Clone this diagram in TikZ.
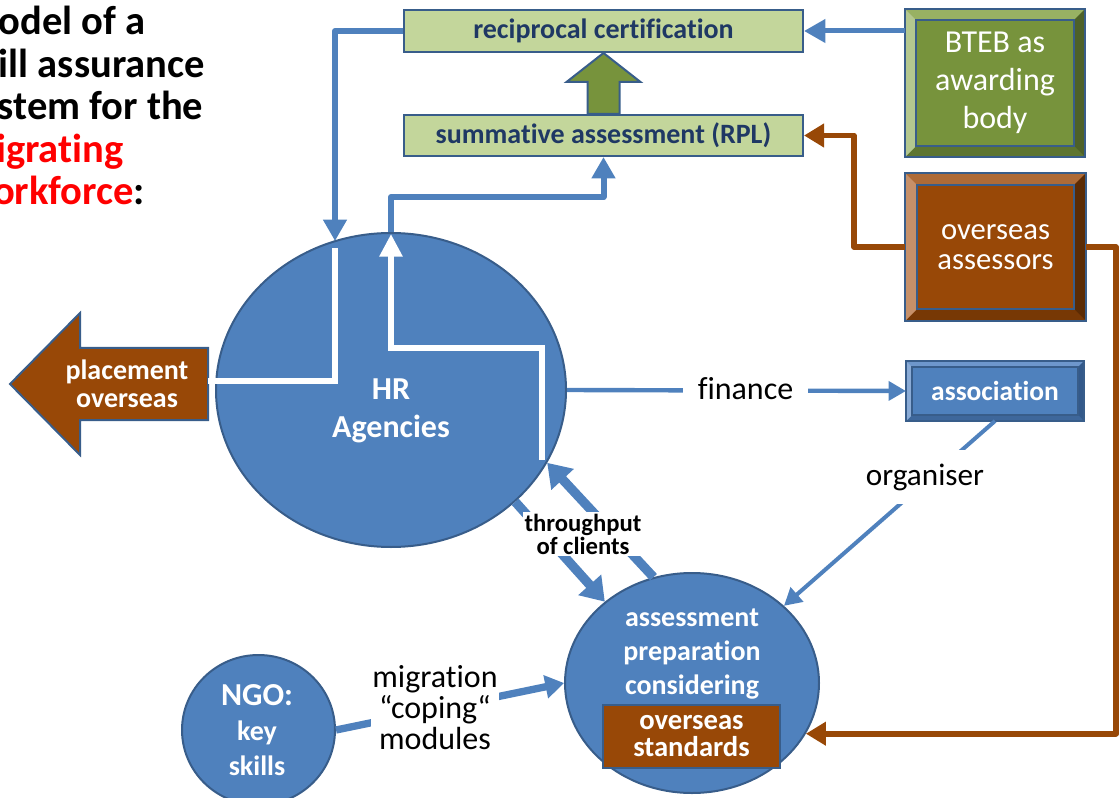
\documentclass[tikz,border=0pt]{standalone}
\usepackage{fontspec}
\setmainfont[Ligatures=NoCommon, RawFeature={-liga,-calt}]{Carlito}
\usetikzlibrary{arrows.meta,calc,shapes.geometric}

\definecolor{ppblue}{HTML}{4F81BD}
\definecolor{pprim}{HTML}{385D8A}
\definecolor{ppbrown}{HTML}{984807}
\definecolor{pplime}{HTML}{C3D69B}
\definecolor{ppolive}{HTML}{77933C}
\definecolor{ppnavy}{HTML}{1F3864}
% bevel faces: T top, B bottom, L left, R right
\definecolor{btebT}{HTML}{98B163}
\definecolor{btebL}{HTML}{B3C78F}
\definecolor{btebR}{HTML}{4E6128}
\definecolor{btebB}{HTML}{5E7530}
\definecolor{assrT}{HTML}{AE6B37}
\definecolor{assrL}{HTML}{C69069}
\definecolor{assrR}{HTML}{5B2B04}
\definecolor{assrB}{HTML}{773805}
\definecolor{assoT}{HTML}{6E97CC}
\definecolor{assoL}{HTML}{8AABD6}
\definecolor{assoR}{HTML}{33598A}
\definecolor{assoB}{HTML}{3E679B}

\newcommand\pxu{0.75pt}
\newcommand\fsz[2]{\fontsize{#1}{#2}\selectfont}

% bevelled frame over a rectangular node: #1 node, #2 inset, #3 colour prefix
\newcommand\bevelfaces[3]{%
  \fill[#3T] (#1.north west) -- (#1.north east) -- ($(#1.north east)+(-#2,#2)$) -- ($(#1.north west)+(#2,#2)$) -- cycle;
  \fill[#3B] (#1.south west) -- (#1.south east) -- ($(#1.south east)+(-#2,-#2)$) -- ($(#1.south west)+(#2,-#2)$) -- cycle;
  \fill[#3L] (#1.north west) -- (#1.south west) -- ($(#1.south west)+(#2,-#2)$) -- ($(#1.north west)+(#2,#2)$) -- cycle;
  \fill[#3R] (#1.north east) -- (#1.south east) -- ($(#1.south east)+(-#2,-#2)$) -- ($(#1.north east)+(-#2,#2)$) -- cycle;
  \draw[rim] ($(#1.north west)+(#2,#2)$) rectangle ($(#1.south east)+(-#2,-#2)$);
  \draw[rim] (#1.north west) rectangle (#1.south east);
}

\tikzset{
  rim/.style={draw=pprim, line width=1.5pt},
  limebox/.style={rectangle, fill=pplime, rim, text=ppnavy, inner sep=0pt,
    font=\fsz{21pt}{25pt}\bfseries},
  bevelbox/.style={rectangle, fill=#1, rim, text=white, inner sep=0pt, align=center},
  blob/.style={ellipse, fill=ppblue, draw=pprim, line width=1.5pt, inner sep=0pt},
  wtext/.style={text=white, align=center, inner sep=0pt},
  lbl/.style={fill=white, align=center, inner sep=0pt},
  link/.style={draw=ppblue, line width=4.5pt, line join=round,
    -{Triangle[length=16pt,width=17pt]}},
  brownlink/.style={draw=ppbrown, line width=4.2pt, line join=round,
    -{Triangle[length=15pt,width=17pt]}},
  thinlink/.style={draw=ppblue, line width=3.3pt, -{Triangle[length=13pt,width=14pt]}},
  fatlink/.style={draw=ppblue, line width=7pt, -{Triangle[length=17pt,width=22pt]}},
  midlink/.style={draw=ppblue, line width=5.5pt, -{Triangle[length=14pt,width=17pt]}},
  wline/.style={draw=white, line width=4.5pt, line join=miter},
}

\begin{document}
\begin{tikzpicture}[x=0.75pt, y=-0.75pt]
\useasboundingbox (0,0) rectangle (1120,798);

% heading, running off the left margin
\begin{scope}
  \clip (0,0) rectangle (1120,798);
  \begin{scope}[every node/.style={anchor=base west, inner sep=0pt,
      font=\fsz{30.4pt}{32pt}\bfseries}]
    \node (t1) at (-37,35) {Model of a};
    \node (t2) at (-37,77.5) {skill assurance};
    \node (t3) at (-37,120) {system for the};
    \node[text=red] (t4) at (-37,162.5) {migrating};
    \node (t5) at (-37,205) {\textcolor{red}{workforce}:};
  \end{scope}
\end{scope}

% certification column
\node[limebox, minimum width=399*\pxu, minimum height=42*\pxu] (recip) at (603.5,31) {reciprocal certification};
\node[limebox, minimum width=399*\pxu, minimum height=41*\pxu] (summ) at (603.5,135.5) {summative assessment (RPL)};
\draw[rim, fill=ppolive] ($(summ.north)+(-16,0)$) -- ++(0,-32) -- ++(-21,0) -- (recip.south)
  -- ($(summ.north)+(37,-32)$) -- ++(-21,0) -- ++(0,32) -- cycle;

% bevelled boxes on the right
\node[bevelbox=ppolive, minimum width=178*\pxu, minimum height=146*\pxu,
  font=\fsz{24pt}{28.5pt}] (bteb) at (995,83) {BTEB as\\awarding\\body};
\bevelfaces{bteb}{11}{bteb}
\node[bevelbox=ppbrown, minimum width=179*\pxu, minimum height=146*\pxu,
  font=\fsz{23pt}{22.5pt}] (oassess) at (995.5,247) {overseas\\assessors};
\bevelfaces{oassess}{12}{assr}
\node[bevelbox=ppblue, minimum width=176*\pxu, minimum height=58*\pxu,
  font=\fsz{20.6pt}{24pt}\bfseries] (assoc) at (995,391) {association};
\bevelfaces{assoc}{6}{asso}

% HR agencies
\node[blob, minimum width=350*\pxu, minimum height=314*\pxu] (hr) at (391,390) {};
\node[wtext, font=\fsz{24pt}{28.5pt}\bfseries] (hrtext) at (391,411) {HR\\Agencies};

% placement block arrow
\draw[rim, fill=ppbrown, line join=miter] (10,384) -- (80,313) -- (80,348) -- (208,348)
  -- (208,420) -- (80,420) -- (80,455) -- cycle;
\node[wtext, font=\fsz{21pt}{21pt}\bfseries] (place) at (127,383.5) {placement\\overseas};
\coordinate (placeR) at (208,381);

% routes through the HR agencies
\coordinate (hrtop) at (335,241);
\coordinate (wA) at (335,248);
\coordinate (wB) at (542,460);
\coordinate (wBm) at (391,348);
\draw[wline] (wA) |- (placeR);
\draw[wline, -{Triangle[length=17pt,width=16.5pt]}] (wB) |- (wBm) -- ($(hr.north)+(0,2)$);

\draw[link] (recip.west) -| (hrtop);
\draw[link] (hr.north) |- ($(summ.south)+(0,40)$) -- (summ.south);
\draw[link, line width=3.75pt] (bteb.west |- recip.east) -- (recip.east);

% assessment preparation
\node[blob, minimum width=254*\pxu, minimum height=220*\pxu] (prep) at (692,683) {};
\node[wtext, font=\fsz{21pt}{25.5pt}\bfseries] (preptext) at (692,654) {assessment\\preparation\\considering};
\node[rectangle, fill=ppbrown, rim, minimum width=177*\pxu, minimum height=63*\pxu,
  wtext, font=\fsz{21.5pt}{20.25pt}\bfseries] (std) at (691.5,736.5) {overseas\\standards};

% NGO
\node[blob, minimum width=153*\pxu, minimum height=150*\pxu] (ngo) at (258.5,730) {};
\node[wtext, font=\fsz{21pt}{26pt}\bfseries] (ngotext) at (257,730) {{\fsz{24pt}{26pt}NGO:}\\key\\skills};

% flows between the circles
\draw[fatlink] (hr.-42) -- (prep.137);
\draw[fatlink] (prep.110) -- (hr.-25);
\node[lbl, inner sep=1pt, font=\fsz{18.5pt}{17.25pt}\bfseries] (thru) at (583,534) {throughput\\of clients};

\draw[thinlink] (hr.east) -- (assoc.west);
\node[lbl, anchor=base, inner xsep=11pt, inner ysep=2pt, font=\fsz{24pt}{28pt}] (fin) at (745.5,399) {finance};

\draw[thinlink, line width=3pt] (assoc.south) -- (prep.40);
\node[lbl, anchor=base, inner xsep=2pt, inner ysep=10pt, font=\fsz{23.4pt}{28pt}] (org) at (925,485) {organiser};

\draw[midlink] (ngo.east) -- (prep.west);
\node[lbl, inner xsep=1pt, font=\fsz{24pt}{23.25pt}] (mig) at (435,708) {migration\\“coping“\\modules};

% overseas assessors feed
\draw[brownlink] (oassess.west) -- ++(-51,0) |- (summ.east);
\draw[brownlink] (oassess.east) -- ++(30,0) |- (prep.-24);

\end{tikzpicture}
\end{document}
